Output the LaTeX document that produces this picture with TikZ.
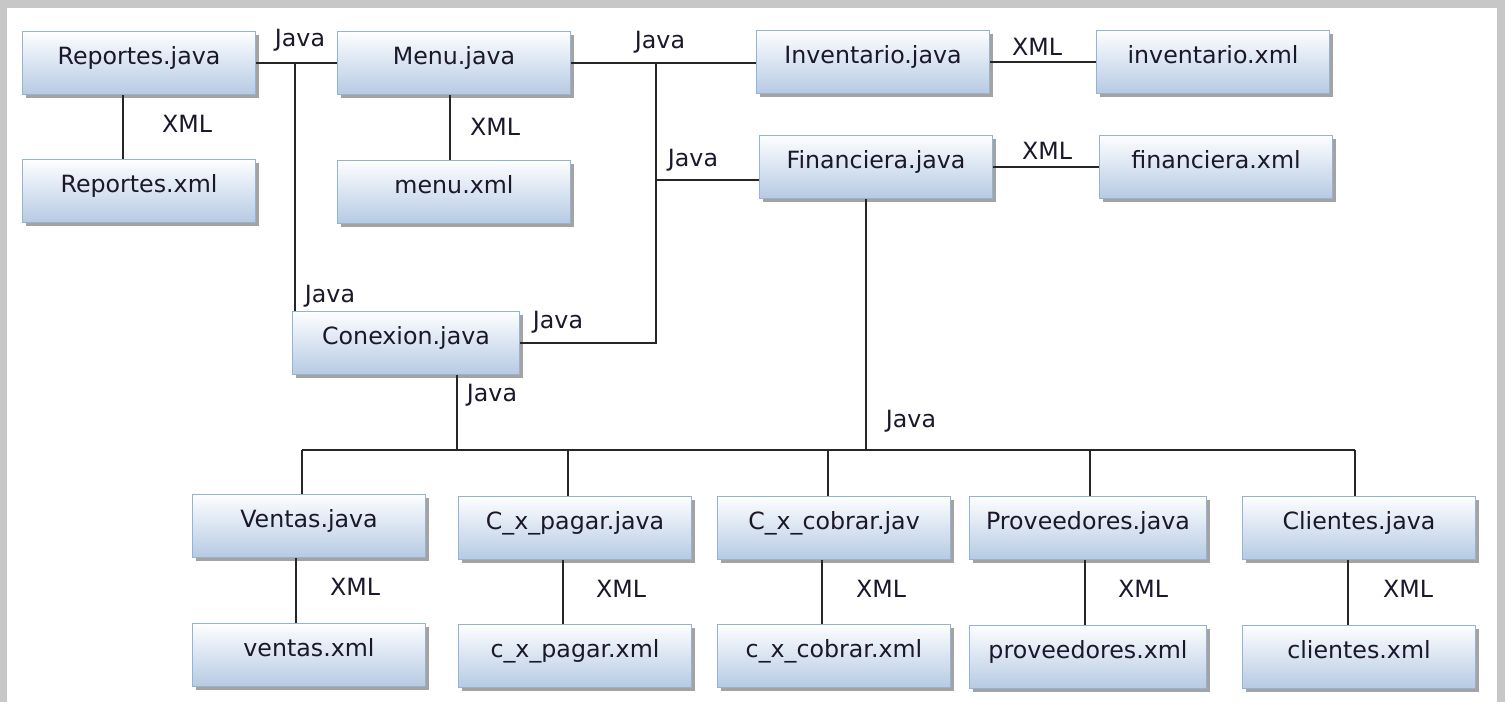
\documentclass[tikz,border=0pt]{standalone}
\usepackage{fontspec}
\setmainfont{DejaVu Sans}
\usepackage{xcolor}
\usepackage{tikz}
\usetikzlibrary{shadows}
\usetikzlibrary{positioning}
\definecolor{boxtop}{RGB}{253,254,255}
\definecolor{boxbot}{RGB}{182,202,227}
\definecolor{boxline}{RGB}{150,178,214}
\definecolor{inktext}{RGB}{28,24,44}

\begin{document}
\begin{tikzpicture}[x=0.02cm,y=-0.02cm]
\tikzset{
    filebox/.style = {rectangle, draw=boxline, line width=0.8pt, top color=boxtop, bottom color=boxbot, minimum width=4.66cm, minimum height=1.26cm, inner sep=0pt, text height=10pt, text depth=8pt, font=\fontsize{13.5}{16}\selectfont, text=inktext, drop shadow={shadow xshift=0.07cm, shadow yshift=-0.07cm, fill=black!45, opacity=0.8}},
    tag/.style     = {font=\fontsize{13.5}{16}\selectfont, text=inktext, inner sep=0pt},
    link/.style    = {draw=black!85, line width=1pt}
}
% frame
\fill[black!22] (0,0) rectangle (1505,702);
\fill[white] (7,8) rectangle (1497,702);

% top part
\node [filebox] (repJava)  at (139,63)  {Reportes.java};
\node [filebox] (repXml)   at (139,191) {Reportes.xml};
\node [filebox] (menuJava) at (454,63)  {Menu.java};
\node [filebox] (menuXml)  at (454,192) {menu.xml};
\node [filebox] (invJava)  at (873,62)  {Inventario.java};
\node [filebox] (invXml)   at (1213,62) {inventario.xml};
\node [filebox] (finJava)  at (876,167) {Financiera.java};
\node [filebox] (finXml)   at (1216,167) {financiera.xml};
\node [filebox, minimum width=4.54cm] (conexion) at (406,343) {Conexion.java};

% bottom part
\node [filebox] (ventasJava) at (309,526)  {Ventas.java};
\node [filebox] (ventasXml)  at (309,655)  {ventas.xml};
\node [filebox] (pagarJava)  at (575,528)  {C\_x\_pagar.java};
\node [filebox] (pagarXml)   at (575,656)  {c\_x\_pagar.xml};
\node [filebox] (cobrarJava) at (834,528)  {C\_x\_cobrar.jav};
\node [filebox] (cobrarXml)  at (834,656)  {c\_x\_cobrar.xml};
\node [filebox, minimum width=4.74cm] (provJava) at (1088,528) {Proveedores.java};
\node [filebox, minimum width=4.74cm] (provXml)  at (1088,657) {proveedores.xml};
\node [filebox] (cliJava)    at (1359,528) {Clientes.java};
\node [filebox] (cliXml)     at (1359,657) {clientes.xml};

% junctions
\coordinate (jRep)  at (295,63);
\coordinate (jMenu) at (656,63);
\coordinate (jFin)  at (656,180);
\coordinate (jDown) at (866,450);
\coordinate (jCon)  at (457,450);
\coordinate (busL)  at (302,450);
\coordinate (busR)  at (1355,450);

\draw[link] (repJava.east) -- (menuJava.west);
\draw[link] (jRep) -- (jRep |- conexion.north);
\draw[link] (menuJava.east) -- (menuJava.east -| invJava.west);
\draw[link] (jMenu) |- (conexion.east);
\draw[link] (jFin) -- (jFin -| finJava.west);
\draw[link] (invJava.east) -- (invXml.west);
\draw[link] (finJava.east) -- (finXml.west);
\draw[link] (jDown |- finJava.south) -- (jDown);
\draw[link] (jCon |- conexion.south) -- (jCon);
\draw[link] (busL) -- (busR);
\foreach \n/\x in {ventasJava/302, pagarJava/568, cobrarJava/828, provJava/1090, cliJava/1355}
    \draw[link] (\x,450) -- (\n.north -| \x,450);
\foreach \a/\b/\x in {repJava/repXml/123, menuJava/menuXml/450, ventasJava/ventasXml/296, pagarJava/pagarXml/563, cobrarJava/cobrarXml/822, provJava/provXml/1085, cliJava/cliXml/1348}
    \draw[link] (\a.south -| \x,0) -- (\b.north -| \x,0);

% labels
\node [tag] (tJava1) at (300,40)  {Java};
\node [tag] (tJava2) at (660,42)  {Java};
\node [tag] (tJava3) at (693,160) {Java};
\node [tag] (tJava4) at (330,296) {Java};
\node [tag] (tJava5) at (558,322) {Java};
\node [tag] (tJava6) at (492,395) {Java};
\node [tag] (tJava7) at (911,421) {Java};
\node [tag] (tXml1) at (187,124)  {XML};
\node [tag] (tXml2) at (495,127)  {XML};
\node [tag] (tXml3) at (1037,47)  {XML};
\node [tag] (tXml4) at (1047,151) {XML};
\node [tag] (tXml5) at (355,587)  {XML};
\node [tag] (tXml6) at (621,589)  {XML};
\node [tag] (tXml7) at (881,589)  {XML};
\node [tag] (tXml8) at (1143,589) {XML};
\node [tag] (tXml9) at (1408,589) {XML};
\end{tikzpicture}
\end{document}
